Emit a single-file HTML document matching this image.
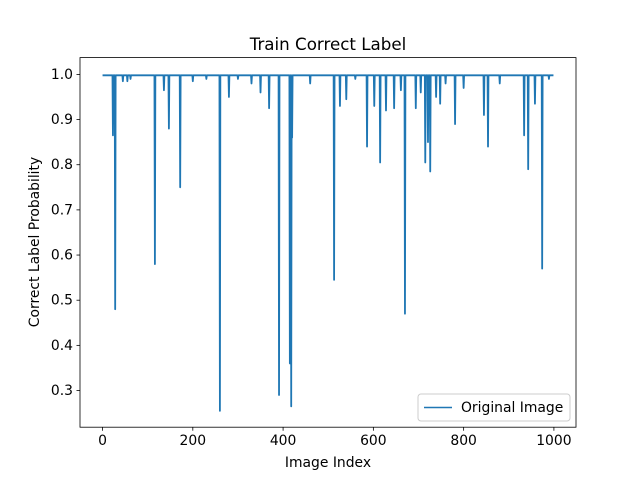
<!DOCTYPE html>
<html><head><meta charset="utf-8"><style>
body{margin:0;background:#fff;}
svg text{font-family:"DejaVu Sans","Liberation Sans",sans-serif;fill:#000;}
</style></head><body>
<svg id="chart" width="640" height="480" viewBox="0 0 640 480">
<rect width="640" height="480" fill="#fff"/>
<text x="328" y="50" font-size="16.7" text-anchor="middle">Train Correct Label</text>
<g id="plot"></g>
<rect x="80" y="57.6" width="496" height="369.6" fill="none" stroke="#000" stroke-width="0.8"/>
<g id="xticks"></g><g id="yticks"></g>
<text x="328" y="467" font-size="13.9" text-anchor="middle">Image Index</text>
<text transform="translate(39,242) rotate(-90)" font-size="13.9" text-anchor="middle">Correct Label Probability</text>
<g>
<rect x="418" y="394" width="152" height="27" rx="3" fill="#fff" fill-opacity="0.8" stroke="#ccc" stroke-width="1"/>
<line x1="424" y1="407.5" x2="452" y2="407.5" stroke="#1f77b4" stroke-width="1.5"/>
<text x="461" y="412" font-size="13.9">Original Image</text>
</g>
</svg>
<script>
const dipIndex=[23,28,45,55,62,116,136,147,172,200,230,260,280,300,330,350,369,391,415,418,420,460,513,526,540,560,586,602,615,628,646,661,670,694,705,715,721,726,739,748,760,781,800,845,854,880,934,943,958,974,989];
const dipValue=[0.865,0.48,0.985,0.985,0.99,0.58,0.965,0.88,0.75,0.985,0.99,0.255,0.95,0.99,0.98,0.96,0.925,0.29,0.36,0.265,0.86,0.98,0.545,0.93,0.945,0.99,0.84,0.93,0.805,0.92,0.925,0.965,0.47,0.925,0.96,0.805,0.85,0.785,0.95,0.935,0.98,0.89,0.97,0.91,0.84,0.98,0.865,0.79,0.935,0.57,0.99];
const baseValue=0.998;
const xTicks=[0,200,400,600,800,1000];
const yTicks=[0.3,0.4,0.5,0.6,0.7,0.8,0.9,1.0];
const N=1000;
const values=new Array(N).fill(baseValue);
dipIndex.forEach((k,i)=>{values[k]=dipValue[i];});
const L=80,R=576,T=57.6,B=427.2,x0=-49.95,x1=1048.95,y0=0.2188,y1=1.0372;
const sx=v=>L+(v-x0)/(x1-x0)*(R-L);
const sy=v=>B-(v-y0)/(y1-y0)*(B-T);
const NS="http://www.w3.org/2000/svg";
const plot=document.getElementById('plot');
let d=values.map((v,i)=>(i?'L':'M')+sx(i).toFixed(2)+','+sy(v).toFixed(2)).join('');
const p=document.createElementNS(NS,'path');
p.setAttribute('d',d);p.setAttribute('fill','none');p.setAttribute('stroke','#1f77b4');p.setAttribute('stroke-width','1.8');p.setAttribute('stroke-linejoin','round');


plot.appendChild(p);
const xg=document.getElementById('xticks');
xTicks.forEach(t=>{
 const l=document.createElementNS(NS,'line');
 l.setAttribute('x1',sx(t));l.setAttribute('x2',sx(t));l.setAttribute('y1',B);l.setAttribute('y2',B+3.5);l.setAttribute('stroke','#000');l.setAttribute('stroke-width','0.8');
 
 
 xg.appendChild(l);
 const tx=document.createElementNS(NS,'text');
 tx.setAttribute('x',sx(t));tx.setAttribute('y',B+18);tx.setAttribute('font-size','13.9');tx.setAttribute('text-anchor','middle');tx.textContent=t;
 
 
 xg.appendChild(tx);
});
const yg=document.getElementById('yticks');
yTicks.forEach(t=>{
 const l=document.createElementNS(NS,'line');
 l.setAttribute('x1',L-3.5);l.setAttribute('x2',L);l.setAttribute('y1',sy(t));l.setAttribute('y2',sy(t));l.setAttribute('stroke','#000');l.setAttribute('stroke-width','0.8');
 
 
 yg.appendChild(l);
 const tx=document.createElementNS(NS,'text');
 tx.setAttribute('x',L-7);tx.setAttribute('y',sy(t)+4.5);tx.setAttribute('font-size','13.9');tx.setAttribute('text-anchor','end');tx.textContent=t.toFixed(1);
 
 
 yg.appendChild(tx);
});
</script>
</body></html>
